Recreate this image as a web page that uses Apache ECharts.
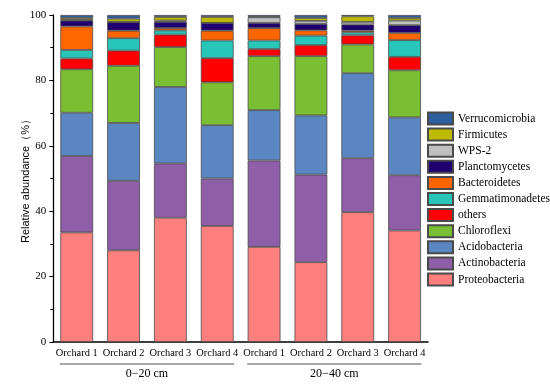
<!DOCTYPE html>
<html>
<head>
<meta charset="utf-8">
<script src="https://cdn.jsdelivr.net/npm/echarts@6/dist/echarts.min.js"></script>
<style>html,body{margin:0;padding:0;background:#fff;}#c{width:550px;height:387px;}</style>
</head>
<body>
<div id="c"></div>
<script>
const categories = ['Orchard 1','Orchard 2','Orchard 3','Orchard 4','Orchard 1','Orchard 2','Orchard 3','Orchard 4'];
const groups = ['0\u221220 cm','20\u221240 cm'];
const groupSize = 4;

const proteobacteria   = [33.5, 28.0, 38.0, 35.5, 29.1, 24.4, 39.7, 34.1];
const actinobacteria   = [23.4, 21.3, 16.6, 14.5, 26.4, 26.8, 16.5, 16.9];
const acidobacteria    = [13.2, 17.7, 23.4, 16.3, 15.4, 18.1, 26.0, 17.7];
const chloroflexi      = [13.3, 17.5, 12.2, 13.1, 16.5, 18.1,  8.8, 14.4];
const others           = [ 3.3,  4.6,  3.8,  7.4,  2.2,  3.4,  2.8,  4.1];
const gemmatimonadetes = [ 2.6,  3.8,  1.3,  5.4,  2.6,  2.9,  0.9,  5.1];
const bacteroidetes    = [ 7.2,  2.3,  0.7,  3.0,  3.8,  1.6,  0.5,  2.2];
const planctomycetes   = [ 1.8,  2.6,  1.9,  2.4,  1.6,  2.0,  1.9,  2.4];
const wps2             = [ 0.2,  0.1,  0.4,  0.0,  1.7,  0.9,  0.8,  1.4];
const firmicutes       = [ 0.6,  1.0,  1.1,  1.8,  0.2,  0.9,  1.7,  0.8];
const verrucomicrobia  = [ 0.9,  1.1,  0.6,  0.6,  0.5,  0.9,  0.4,  0.9];

const seriesDefs = [
  ['Proteobacteria', proteobacteria, '#FF7F7F'],
  ['Actinobacteria', actinobacteria, '#8E5EA8'],
  ['Acidobacteria', acidobacteria, '#5A87C1'],
  ['Chloroflexi', chloroflexi, '#79BE33'],
  ['others', others, '#FF0000'],
  ['Gemmatimonadetes', gemmatimonadetes, '#28C6B8'],
  ['Bacteroidetes', bacteroidetes, '#FF6600'],
  ['Planctomycetes', planctomycetes, '#200070'],
  ['WPS-2', wps2, '#C0C0C0'],
  ['Firmicutes', firmicutes, '#BDBA00'],
  ['Verrucomicrobia', verrucomicrobia, '#2E5F9F']
];

const serif = '"Liberation Serif","Times New Roman",serif';
const chart = echarts.init(document.getElementById('c'), null, {renderer: 'canvas'});

const series = seriesDefs.map(([name, data, color]) => ({
  name, type: 'bar', stack: 'total', data, barWidth: '70%',
  itemStyle: {color, borderColor: '#4a4a4a', borderWidth: 0.8},
  emphasis: {disabled: true}
}));

chart.setOption({
  animation: false,
  grid: {left: 53.3, right: 122, top: 15, bottom: 45},
  legend: {
    orient: 'vertical', left: 427, top: 111.5, padding: 0,
    itemWidth: 25, itemHeight: 12, itemGap: 2.1,
    icon: 'rect',
    data: seriesDefs.map(d => d[0]).reverse(),
    textStyle: {fontFamily: serif, fontSize: 11.5, color: '#000'}
  },
  xAxis: [{
    type: 'category', data: categories,
    axisLine: {lineStyle: {color: '#000', width: 1.5}},
    axisTick: {show: false},
    axisLabel: {fontFamily: serif, fontSize: 10.4, color: '#000', margin: 6, interval: 0}
  }, {
    type: 'category', data: groups, position: 'bottom', offset: 20,
    axisLine: {show: false}, axisTick: {show: false},
    axisLabel: {fontFamily: serif, fontSize: 12, color: '#000', margin: 6, interval: 0}
  }],
  yAxis: {
    type: 'value', min: 0, max: 100, interval: 20,
    name: 'Relative abundance\uFF08%\uFF09', nameLocation: 'middle', nameGap: 22,
    nameMoveOverlap: false,
    nameTextStyle: {fontFamily: '"Liberation Sans",Arial,sans-serif', fontSize: 11, color: '#000'},
    axisLine: {show: true, lineStyle: {color: '#000', width: 1.3}},
    axisTick: {show: true, length: 4, lineStyle: {color: '#000'}},
    minorTick: {show: true, splitNumber: 2, length: 3, lineStyle: {color: '#000'}},
    splitLine: {show: false},
    axisLabel: {fontFamily: serif, fontSize: 11, color: '#000', margin: 7}
  },
  series
});

// group underline bars positioned via the category axis scale
const lineY = chart.convertToPixel({yAxisIndex: 0}, 0) + 22;
const band = chart.convertToPixel({xAxisIndex: 0}, 1) - chart.convertToPixel({xAxisIndex: 0}, 0);
const graphics = groups.map((g, gi) => {
  const first = chart.convertToPixel({xAxisIndex: 0}, gi * groupSize);
  const last = chart.convertToPixel({xAxisIndex: 0}, gi * groupSize + groupSize - 1);
  return {
    type: 'line', shape: {x1: first - band * 0.36, y1: lineY, x2: last + band * 0.36, y2: lineY},
    style: {stroke: '#8c8c8c', lineWidth: 1.6}
  };
});
chart.setOption({graphic: graphics});
</script>
</body>
</html>
